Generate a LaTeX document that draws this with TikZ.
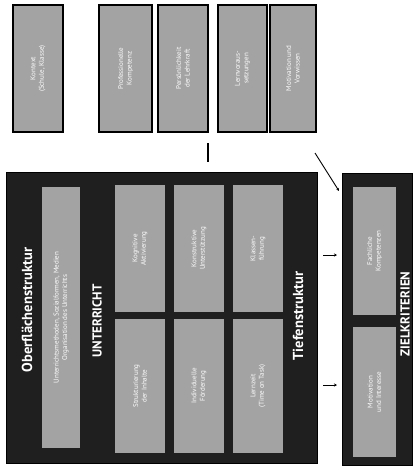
\documentclass[tikz,border=0pt]{standalone}
\usepackage{fontspec}
\setsansfont{PT Sans}
\usetikzlibrary{arrows.meta}
\tikzset{
  hellfeld/.style={draw=black,line width=1.1pt,fill=black!36,rotate=90,inner sep=1pt,
    text=white,align=center,font=\sffamily\fontsize{7}{8.5}\selectfont},
  innenfeld/.style={hellfeld,draw=none},
  dunkelfeld/.style={draw=black,line width=0.8pt,fill=black!88,inner sep=0pt},
  titel/.style={rotate=90,text=white,font=\sffamily\bfseries\fontsize{#1}{16}\selectfont},
  pfeil/.style={line width=0.6pt,-{Stealth[length=3pt,width=3pt]}}
}
\begin{document}
\begin{tikzpicture}[x=1pt,y=-1pt]
\useasboundingbox (0,0) rectangle (413,472);
\node[hellfeld,minimum width=127pt,minimum height=50pt] (kontext) at (38,68.5) {Kontext\\(Schule, Klasse)};
\node[hellfeld,minimum width=127pt,minimum height=53pt] (kompetenz) at (125.5,68.5) {Professionelle\\Kompetenz};
\node[hellfeld,minimum width=127pt,minimum height=50pt] (person) at (183,68.5) {Persönlichkeit\\der Lehrkraft};
\node[hellfeld,minimum width=127pt,minimum height=49pt] (voraus) at (242.5,68.5) {Lernvoraus-\\setzungen};
\node[hellfeld,minimum width=127pt,minimum height=46pt] (motiv) at (293,68.5) {Motivation und\\Vorwissen};

\node[dunkelfeld,minimum width=311pt,minimum height=291pt] (unterricht) at (161.5,317.5) {};
\node[titel=14.5] (ober) at (27,310) {Oberflächenstruktur};
\node[innenfeld,minimum width=261pt,minimum height=38pt] (methoden) at (61,317.5) {Unterrichtsmethoden, Sozialformen, Medien\\Organisation des Unterrichts};
\node[titel=13] (unt) at (97,321) {UNTERRICHT};
\node[innenfeld,minimum width=127pt,minimum height=50pt] (t11) at (140,248.5) {Kognitive\\Aktivierung};
\node[innenfeld,minimum width=127pt,minimum height=50pt] (t12) at (199,248.5) {Konstruktive\\Unterstützung};
\node[innenfeld,minimum width=127pt,minimum height=50pt] (t13) at (258,248.5) {Klassen-\\führung};
\node[innenfeld,minimum width=134pt,minimum height=50pt] (t21) at (140,386) {Strukturierung\\der Inhalte};
\node[innenfeld,minimum width=134pt,minimum height=50pt] (t22) at (199,386) {Individuelle\\Förderung};
\node[innenfeld,minimum width=134pt,minimum height=50pt] (t23) at (258,386) {Lernzeit\\(Time on Task)};
\node[titel=14.5] (tief) at (298,316) {Tiefenstruktur};

\node[dunkelfeld,minimum width=70pt,minimum height=292pt] (ziel) at (377,319) {};
\node[innenfeld,minimum width=128pt,minimum height=43pt] (z1) at (374.5,251) {Fachliche\\Kompetenzen};
\node[innenfeld,minimum width=130pt,minimum height=43pt] (z2) at (374.5,392) {Motivation\\und Interesse};
\node[titel=13] (zk) at (405,314) {ZIELKRITERIEN};

\coordinate (l1) at (208,143);
\coordinate (l2) at (208,162);
\coordinate (d1) at (315,153);
\coordinate (d2) at (339,191);
\coordinate (a1) at (323,255);
\coordinate (a2) at (337,255);
\coordinate (b1) at (323,385);
\coordinate (b2) at (337,385);
\draw[line width=1.2pt] (l1)--(l2);
\draw[pfeil,line width=0.9pt] (d1)--(d2);
\draw[pfeil] (a1)--(a2);
\draw[pfeil] (b1)--(b2);
\end{tikzpicture}
\end{document}
